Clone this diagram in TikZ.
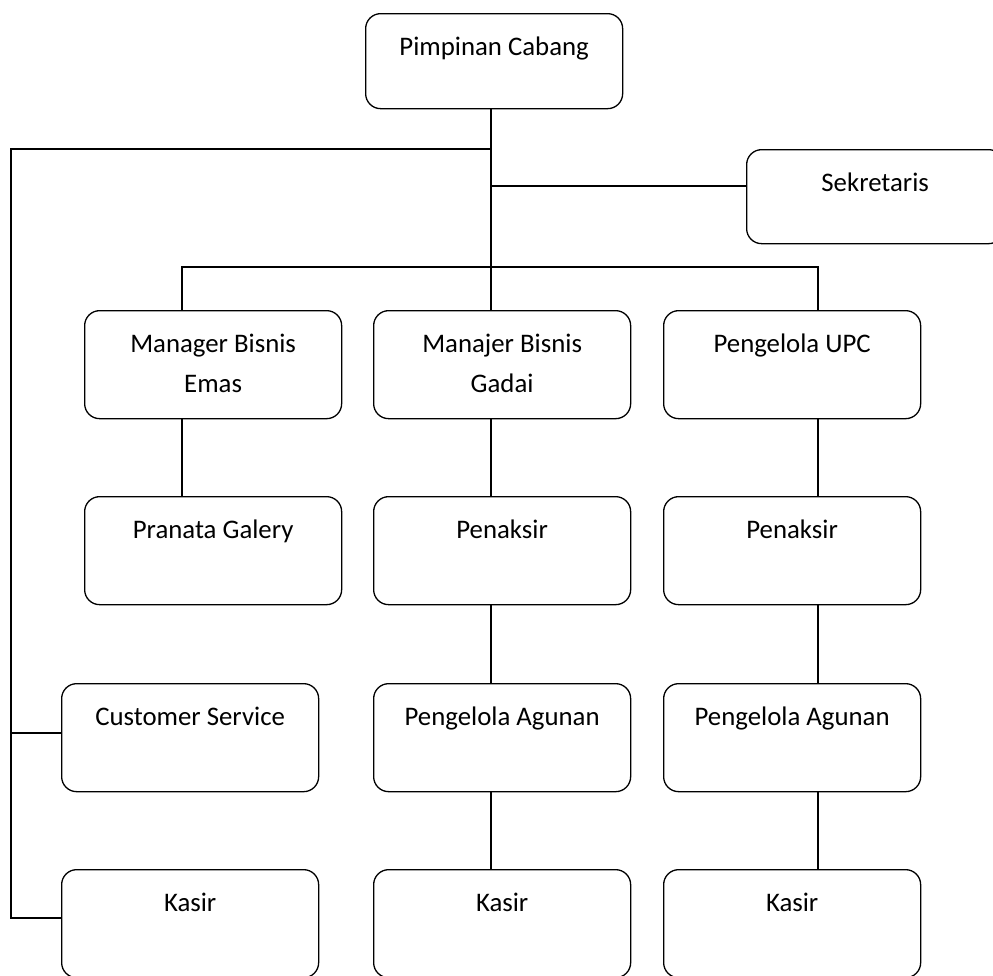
\documentclass[tikz,border=0pt]{standalone}
\usepackage{fontspec}
\setmainfont{Carlito}
\begin{document}
\begin{tikzpicture}[x=1pt,y=-1pt,
  orgbox/.style={draw=black, line width=1.3pt, rounded corners=15pt,
    minimum width=257pt, minimum height=108pt, inner sep=0pt, anchor=north west},
  lbl/.style={anchor=base, yshift=-42pt, inner sep=0pt, align=center,
    font=\fontsize{26.8}{40}\selectfont},
  lbltwo/.style={lbl, yshift=-40pt},
  conn/.style={draw=black, line width=2.2pt}]
\useasboundingbox (0,0) rectangle (993,975);

% boxes
\node[orgbox, minimum height=95pt, label={[lbl]north:Pimpinan Cabang}] (pc) at (365,13) {};
\node[orgbox, minimum height=94pt, label={[lbl]north:Sekretaris}] (sek) at (746,149) {};
\node[orgbox, label={[lbltwo]north:Manager Bisnis\\Emas}] (emas) at (84,310) {};
\node[orgbox, label={[lbltwo]north:Manajer Bisnis\\Gadai}] (gadai) at (373,310) {};
\node[orgbox, label={[lbl]north:Pengelola UPC}] (upc) at (663,310) {};
\node[orgbox, label={[lbl]north:Pranata Galery}] (pg) at (84,496) {};
\node[orgbox, label={[lbl]north:Penaksir}] (pk1) at (373,496) {};
\node[orgbox, label={[lbl]north:Penaksir}] (pk2) at (663,496) {};
\node[orgbox, label={[lbl]north:Customer Service}] (cs) at (61,683) {};
\node[orgbox, label={[lbl]north:Pengelola Agunan}] (pa1) at (373,683) {};
\node[orgbox, label={[lbl]north:Pengelola Agunan}] (pa2) at (663,683) {};
\node[orgbox, label={[lbl]north:Kasir}] (ks0) at (61,869) {};
\node[orgbox, label={[lbl]north:Kasir}] (ks1) at (373,869) {};
\node[orgbox, label={[lbl]north:Kasir}] (ks2) at (663,869) {};

% junction coordinates
\coordinate (t1) at (491,149);
\coordinate (t2) at (491,186);
\coordinate (t3) at (491,267);
\coordinate (lc) at (11,149);
\coordinate (lcs) at (11,733);
\coordinate (lks) at (11,918);
\coordinate (r1) at (182,267);
\coordinate (r3) at (818,267);

% connectors
\draw[conn] (pc.south -| t1) -- (t3) -- (t3 |- gadai.north);
\draw[conn] (t1) -- (lc) -- (lks) -- (lks -| ks0.west);
\draw[conn] (lcs) -- (lcs -| cs.west);
\draw[conn] (t2) -- (t2 -| sek.west);
\draw[conn] (emas.north -| r1) -- (r1) -- (r3) -- (r3 |- upc.north);
\draw[conn] (emas.south -| r1) -- (pg.north -| r1);
\draw[conn] (gadai.south -| t3) -- (pk1.north -| t3);
\draw[conn] (pk1.south -| t3) -- (pa1.north -| t3);
\draw[conn] (pa1.south -| t3) -- (ks1.north -| t3);
\draw[conn] (upc.south -| r3) -- (pk2.north -| r3);
\draw[conn] (pk2.south -| r3) -- (pa2.north -| r3);
\draw[conn] (pa2.south -| r3) -- (ks2.north -| r3);
\end{tikzpicture}
\end{document}
